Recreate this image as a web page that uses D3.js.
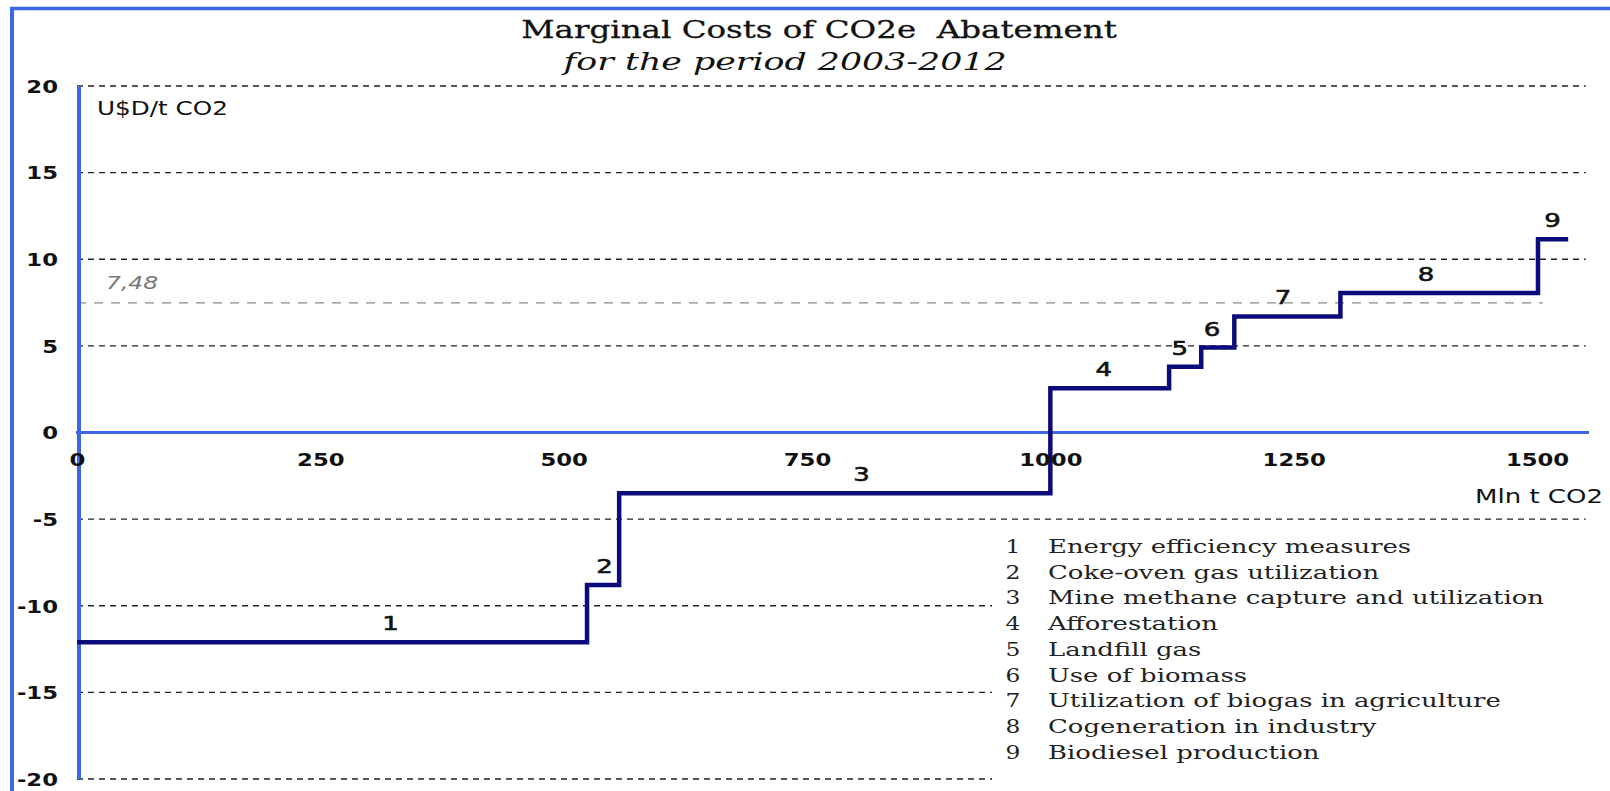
<html>
<head>
<meta charset="utf-8">
<script src="https://d3js.org/d3.v7.min.js"></script>
<style>
  body { margin: 0; background: #fff; }
  svg { display: block; }
</style>
</head>
<body>
<svg width="1610" height="791"></svg>
<script>
// abatement options, in merit order
const measures = [
  "Energy efficiency measures",
  "Coke-oven gas utilization",
  "Mine methane capture and utilization",
  "Afforestation",
  "Landfill gas",
  "Use of biomass",
  "Utilization of biogas in agriculture",
  "Cogeneration in industry",
  "Biodiesel production"
];
// potential of each option, Mln t CO2
const potential = [524, 33, 443, 122, 33, 34, 109, 203, 31];
// marginal cost, U$D / t CO2
const cost = [-12.1, -8.8, -3.5, 2.55, 3.8, 4.9, 6.7, 8.05, 11.15];
// where the number sits along the x axis, Mln t CO2
const labelMt = [322, 542, 806, 1055, 1133, 1166, 1239, 1386, 1516];

const yTicks = [20, 15, 10, 5, 0, -5, -10, -15, -20];
const xTicks = [0, 250, 500, 750, 1000, 1250, 1500];
const refCost = 7.48, refLabel = "7,48";

const blue = '#3f66e6', navy = '#0b0b7c';
const SX = 1.3;   // the source picture is stretched sideways

let svg = d3.select('svg');
let x = d3.scaleLinear().domain([0, 1550]).range([77, 1585.7]);
let y = d3.scaleLinear().domain([-20, 20]).range([779, 86]);

// cumulative start points of each step
let starts = [];
potential.reduce((acc, p) => { starts.push(acc); return acc + p; }, 0);
let total = d3.sum(potential);
let pts = starts.map((s, i) => [s, cost[i]]);
pts.push([total, cost[cost.length - 1]]);

// outer frame (left and top only)
svg.append('line').attr('x1', 12).attr('x2', 12).attr('y1', 7).attr('y2', 791)
  .attr('stroke', blue).attr('stroke-width', 4);
svg.append('line').attr('x1', 10).attr('x2', 1610).attr('y1', 8.5).attr('y2', 8.5)
  .attr('stroke', blue).attr('stroke-width', 3.5);

function stretched(sel, px, py, sx) {
  return sel.attr('transform', `translate(${px},${py}) scale(${sx},1)`);
}

// title
stretched(svg.append('text'), 819, 38, 1.3)
  .attr('text-anchor', 'middle')
  .style('font-family', 'DejaVu Serif').style('font-size', '25px').style('fill', '#111')
  .style('stroke', '#111').style('stroke-width', 0.3)
  .text('Marginal Costs of CO2e  Abatement')
  .style('white-space', 'pre');
stretched(svg.append('text'), 785, 70, 1.45)
  .attr('text-anchor', 'middle')
  .style('font-family', 'DejaVu Serif').style('font-style', 'italic')
  .style('font-size', '24px').style('fill', '#111')
  .text('for the period 2003-2012');

// horizontal dashed grid
svg.append('g')
  .selectAll('line')
  .data(yTicks.filter(d => d != 0))
  .join('line')
  .attr('x1', x(0)).attr('x2', x(1550))
  .attr('y1', d => y(d)).attr('y2', d => y(d))
  .attr('stroke', '#222').attr('stroke-width', 1.3)
  .attr('stroke-dasharray', '6,5');

// reference cost line
svg.append('line')
  .attr('x1', x(0)).attr('x2', x(1506))
  .attr('y1', y(refCost)).attr('y2', y(refCost))
  .attr('stroke', '#8a8a8a').attr('stroke-width', 1.3)
  .attr('stroke-dasharray', '9,8');
stretched(svg.append('text'), 106, y(refCost) - 14, SX)
  .style('font-family', 'DejaVu Sans').style('font-style', 'italic')
  .style('font-size', '18px').style('fill', '#777')
  .text(refLabel);

// legend box hides the grid under it
svg.append('rect').attr('x', 992).attr('y', 527).attr('width', 618).attr('height', 264)
  .attr('fill', '#fff');

// axes lines
svg.append('line').attr('x1', x(0) - 1).attr('x2', 1589)
  .attr('y1', y(0)).attr('y2', y(0))
  .attr('stroke', blue).attr('stroke-width', 3);
svg.append('line').attr('x1', 79).attr('x2', 79)
  .attr('y1', y(20)).attr('y2', y(-20))
  .attr('stroke', blue).attr('stroke-width', 4);

// the cost curve
svg.append('path')
  .attr('d', d3.line().x(d => x(d[0])).y(d => y(d[1])).curve(d3.curveStepAfter)(pts))
  .attr('fill', 'none').attr('stroke', navy).attr('stroke-width', 4.5)
  .attr('stroke-linejoin', 'miter');

// option numbers above each step
svg.append('g')
  .selectAll('text')
  .data(measures)
  .join('text')
  .attr('transform', (d, i) => `translate(${x(labelMt[i])},${y(cost[i]) - 12}) scale(${SX},1)`)
  .attr('text-anchor', 'middle')
  .style('font-family', 'DejaVu Sans').style('font-size', '20px').style('fill', '#111')
  .style('stroke', '#111').style('stroke-width', 0.6)
  .text((d, i) => i + 1);

// y axis labels (plain hyphen for minus, like the source)
let yAxis = svg.append('g')
  .attr('transform', 'translate(79,0)')
  .call(d3.axisLeft(y).tickValues(yTicks).tickSize(0).tickFormat(d => String(d)));
yAxis.select('.domain').remove();
yAxis.selectAll('text')
  .attr('x', -21 / SX).attr('dy', '0.36em')
  .attr('transform', `scale(${SX},1)`)
  .style('font-family', 'DejaVu Sans').style('font-weight', 'bold')
  .style('font-size', '17.5px').style('fill', '#111');

// x axis labels
let xAxis = svg.append('g')
  .attr('transform', `translate(0,${y(0)})`)
  .call(d3.axisBottom(x).tickValues(xTicks).tickSize(0).tickPadding(21).tickFormat(d => String(d)));
xAxis.select('.domain').remove();
xAxis.selectAll('text')
  .attr('transform', `scale(${SX},1)`)
  .style('font-family', 'DejaVu Sans').style('font-weight', 'bold')
  .style('font-size', '17.5px').style('fill', '#111');

// unit labels
stretched(svg.append('text'), 97, 115, SX)
  .style('font-family', 'DejaVu Sans').style('font-size', '19px').style('fill', '#111')
  .text('U$D/t CO2');
stretched(svg.append('text'), 1603, 503, SX)
  .attr('text-anchor', 'end')
  .style('font-family', 'DejaVu Sans').style('font-size', '20px').style('fill', '#111')
  .text('Mln t CO2');

// legend
let leg = svg.append('g')
  .selectAll('g')
  .data(measures)
  .join('g')
  .attr('transform', (d, i) => `translate(0,${553 + i * 25.7})`);
leg.append('text')
  .attr('transform', `translate(1013,0) scale(${SX},1)`)
  .attr('text-anchor', 'middle')
  .style('font-family', 'DejaVu Serif').style('font-size', '18px').style('fill', '#222')
  .text((d, i) => i + 1);
leg.append('text')
  .attr('transform', `translate(1048,0) scale(1.4,1)`)
  .style('font-family', 'DejaVu Serif').style('font-size', '18.5px').style('fill', '#222')
  .text(d => d);
</script>
</body>
</html>
